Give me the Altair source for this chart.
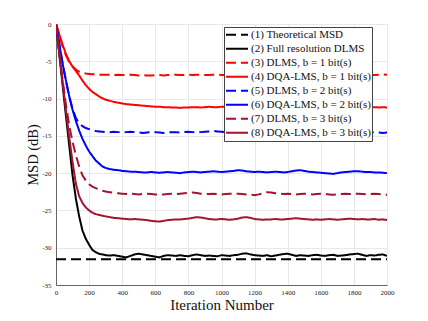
import altair as alt
import pandas as pd

iterations = [0, 20, 40, 60, 80, 100, 120, 140, 160, 180, 200, 220, 240, 260, 280, 300,
              325, 350, 375, 400, 425, 450, 475, 500, 525, 550,
              575, 600, 625, 650, 675, 700, 725, 750, 775, 800,
              825, 850, 875, 900, 925, 950, 975, 1000, 1025, 1050,
              1075, 1100, 1125, 1150, 1175, 1200, 1225, 1250, 1275, 1300,
              1325, 1350, 1375, 1400, 1425, 1450, 1475, 1500, 1525, 1550,
              1575, 1600, 1625, 1650, 1675, 1700, 1725, 1750, 1775, 1800,
              1825, 1850, 1875, 1900, 1925, 1950, 1975, 2000]

theory_iter = [0, 2000]
theory_msd = [-31.55, -31.55]

full_dlms = [0, -4.1, -8.2, -12.3, -16.3, -20.3, -23.4, -25.8, -27.7, -28.8, -29.6, -30.3, -30.6, -30.8, -30.9, -31.0,
             -31.05, -31.0, -31.1, -31.2, -31.3, -31.1, -30.9, -30.8, -30.9, -31.0,
             -31.1, -31.2, -31.3, -31.1, -31.0, -31.05, -31.1, -31.0, -31.1, -31.15,
             -31.0, -30.9, -31.0, -31.1, -31.05, -31.1, -31.15, -31.0, -31.05, -31.1,
             -31.0, -30.95, -30.8, -30.75, -30.9, -31.0, -31.05, -31.1, -31.0, -31.15,
             -31.05, -30.95, -30.85, -30.8, -30.95, -31.1, -31.0, -31.05, -31.1, -31.0,
             -30.95, -31.05, -31.1, -31.0, -30.95, -31.1, -31.05, -31.0, -30.9, -30.85,
             -30.8, -30.95, -31.1, -31.0, -31.05, -30.95, -30.9, -31.1]

dlms_b1 = [0, -1.5, -3.0, -4.2, -5.1, -5.7, -6.1, -6.4, -6.55, -6.65, -6.7, -6.75, -6.75, -6.8, -6.8, -6.8,
           -6.8, -6.85, -6.8, -6.85, -6.85, -6.8, -6.85, -6.9, -6.85, -6.9,
           -6.9, -6.85, -6.85, -6.9, -6.85, -6.85, -6.8, -6.85, -6.85, -6.8,
           -6.85, -6.8, -6.8, -6.85, -6.85, -6.8, -6.8, -6.85, -6.85, -6.8,
           -6.8, -6.85, -6.85, -6.8, -6.8, -6.85, -6.85, -6.8, -6.85, -6.85,
           -6.8, -6.8, -6.85, -6.85, -6.8, -6.85, -6.8, -6.8, -6.85, -6.85,
           -6.8, -6.85, -6.85, -6.8, -6.8, -6.85, -6.85, -6.8, -6.8, -6.85,
           -6.85, -6.8, -6.8, -6.85, -6.85, -6.8, -6.75, -6.8]

dqa_b1 = [0, -1.4, -2.8, -4.0, -5.0, -5.7, -6.3, -6.9, -7.6, -8.2, -8.7, -9.1, -9.4, -9.7, -9.95, -10.15,
          -10.3, -10.45, -10.55, -10.65, -10.75, -10.8, -10.85, -10.9, -10.95, -11.0,
          -11.05, -11.1, -11.1, -11.15, -11.15, -11.2, -11.2, -11.25, -11.2, -11.2,
          -11.15, -11.15, -11.2, -11.15, -11.1, -11.15, -11.15, -11.1, -11.1, -11.15,
          -11.1, -11.1, -11.15, -11.1, -11.1, -11.15, -11.15, -11.1, -11.1, -11.1,
          -11.15, -11.1, -11.1, -11.15, -11.15, -11.1, -11.1, -11.15, -11.1, -11.1,
          -11.15, -11.15, -11.1, -11.1, -11.15, -11.1, -11.1, -11.15, -11.1, -11.15,
          -11.15, -11.1, -11.1, -11.15, -11.15, -11.2, -11.15, -11.2]

dlms_b2 = [0, -2.7, -5.3, -7.6, -9.7, -11.4, -12.6, -13.3, -13.7, -13.95, -14.1, -14.25, -14.35, -14.4, -14.45, -14.5,
           -14.5, -14.45, -14.5, -14.55, -14.5, -14.45, -14.5, -14.55, -14.6, -14.55,
           -14.5, -14.5, -14.55, -14.6, -14.55, -14.5, -14.5, -14.55, -14.5, -14.45,
           -14.5, -14.55, -14.5, -14.45, -14.4, -14.35, -14.4, -14.45, -14.5, -14.5,
           -14.55, -14.5, -14.5, -14.45, -14.5, -14.55, -14.5, -14.5, -14.45, -14.5,
           -14.55, -14.5, -14.5, -14.45, -14.5, -14.5, -14.55, -14.5, -14.45, -14.5,
           -14.5, -14.55, -14.5, -14.5, -14.45, -14.5, -14.55, -14.5, -14.5, -14.55,
           -14.5, -14.5, -14.55, -14.5, -14.5, -14.55, -14.6, -14.55]

dqa_b2 = [0, -2.7, -5.3, -7.6, -9.7, -11.5, -13.0, -14.3, -15.4, -16.3, -17.1, -17.7, -18.3, -18.7, -19.1, -19.3,
          -19.45, -19.55, -19.6, -19.7, -19.75, -19.8, -19.8, -19.85, -19.9, -19.9,
          -19.85, -19.9, -19.95, -19.9, -19.85, -19.9, -19.95, -20.0, -19.9, -19.85,
          -19.8, -19.85, -19.9, -19.85, -19.8, -19.75, -19.8, -19.85, -19.8, -19.75,
          -19.7, -19.6, -19.65, -19.75, -19.8, -19.85, -19.8, -19.85, -19.9, -19.85,
          -19.8, -19.85, -19.9, -19.85, -19.75, -19.65, -19.6, -19.7, -19.8, -19.85,
          -19.9, -19.95, -20.0, -20.05, -20.1, -20.0, -19.9, -19.85, -19.8, -19.75,
          -19.75, -19.8, -19.85, -19.85, -19.9, -19.9, -19.95, -20.0]

dlms_b3 = [0, -3.8, -7.5, -10.8, -13.6, -15.8, -17.6, -19.1, -20.3, -21.0, -21.5, -21.8, -22.0, -22.2, -22.35, -22.45,
           -22.55, -22.65, -22.7, -22.75, -22.8, -22.75, -22.8, -22.85, -22.8, -22.75,
           -22.8, -22.85, -22.9, -22.85, -22.8, -22.75, -22.8, -22.75, -22.7, -22.65,
           -22.6, -22.65, -22.75, -22.8, -22.8, -22.75, -22.8, -22.85, -22.8, -22.75,
           -22.8, -22.75, -22.8, -22.85, -22.9, -22.95, -22.85, -22.7, -22.55, -22.6,
           -22.7, -22.75, -22.8, -22.75, -22.8, -22.85, -22.8, -22.75, -22.8, -22.85,
           -22.8, -22.75, -22.8, -22.85, -22.9, -22.85, -22.8, -22.75, -22.8, -22.8,
           -22.75, -22.8, -22.85, -22.8, -22.75, -22.8, -22.85, -22.9]

dqa_b3 = [0, -3.9, -7.8, -11.6, -15.2, -18.5, -21.4, -23.1, -24.0, -24.6, -25.0, -25.3, -25.5, -25.6, -25.7, -25.8,
          -25.9, -26.0, -26.05, -26.1, -26.15, -26.2, -26.15, -26.2, -26.25, -26.3,
          -26.4, -26.45, -26.5, -26.4, -26.3, -26.25, -26.2, -26.2, -26.15, -26.1,
          -26.0, -25.9, -25.95, -26.05, -26.15, -26.2, -26.2, -26.15, -26.2, -26.25,
          -26.2, -26.1, -25.95, -25.9, -26.0, -26.15, -26.2, -26.25, -26.2, -26.2,
          -26.15, -26.2, -26.2, -26.15, -26.1, -26.05, -26.1, -26.15, -26.2, -26.25,
          -26.2, -26.25, -26.2, -26.15, -26.2, -26.25, -26.2, -26.15, -26.1, -26.15,
          -26.2, -26.15, -26.2, -26.2, -26.15, -26.25, -26.2, -26.3]

labels = ["(1) Theoretical MSD",
          "(2) Full resolution DLMS",
          "(3) DLMS, b = 1 bit(s)",
          "(4) DQA-LMS, b = 1 bit(s)",
          "(5) DLMS, b = 2 bit(s)",
          "(6) DQA-LMS, b = 2 bit(s)",
          "(7) DLMS, b = 3 bit(s)",
          "(8) DQA-LMS, b = 3 bit(s)"]
colors = ["#000000", "#000000", "#ff0000", "#ff0000", "#0000ff", "#0000ff", "#a2142f", "#a2142f"]
dashes = [[10, 5], [1, 0], [10, 5], [1, 0], [10, 5], [1, 0], [10, 5], [1, 0]]

rows = []
for i, v in zip(theory_iter, theory_msd):
    rows.append({"iter": i, "msd": v, "series": labels[0]})
for lab, ser in zip(labels[1:], [full_dlms, dlms_b1, dqa_b1, dlms_b2, dqa_b2, dlms_b3, dqa_b3]):
    for i, v in zip(iterations, ser):
        rows.append({"iter": i, "msd": v, "series": lab})
df = pd.DataFrame(rows)

serif = "Liberation Serif"

chart = alt.Chart(df).mark_line(strokeWidth=2, clip=True).encode(
    x=alt.X("iter:Q",
            scale=alt.Scale(domain=[0, 2000], nice=False),
            axis=alt.Axis(values=[0, 200, 400, 600, 800, 1000, 1200, 1400, 1600, 1800, 2000],
                          title="Iteration Number", titleFont=serif, titleFontSize=15,
                          titleFontWeight="normal", titleColor="#111", titleY=24,
                          titleBaseline="alphabetic",
                          labelFont=serif, labelFontSize=7, labelColor="#222",
                          labelPadding=3, ticks=False, labelExpr="datum.value + ''",
                          domainColor="#666", gridColor="#e8e8e8", labelFlush=False)),
    y=alt.Y("msd:Q",
            scale=alt.Scale(domain=[-35, 0], nice=False),
            axis=alt.Axis(values=[0, -5, -10, -15, -20, -25, -30, -35],
                          title="MSD (dB)", titleFont=serif, titleFontSize=14.5,
                          titleFontWeight="normal", titleColor="#111", titleX=-19,
                          titleBaseline="alphabetic",
                          labelFont=serif, labelFontSize=7, labelColor="#222",
                          labelPadding=5, ticks=False, labelExpr="datum.value + ''",
                          domainColor="#666", gridColor="#e8e8e8", labelFlush=False)),
    color=alt.Color("series:N", scale=alt.Scale(domain=labels, range=colors),
                    legend=alt.Legend(title=None, orient="none", legendX=168, legendY=3,
                                      fillColor="white", strokeColor="#444", padding=1,
                                      labelFont=serif, labelFontSize=11, labelColor="#111",
                                      symbolType="stroke", symbolStrokeWidth=2, symbolSize=484,
                                      clipHeight=13.3, rowPadding=0, labelOffset=2,
                                      labelLimit=300)),
    strokeDash=alt.StrokeDash("series:N", scale=alt.Scale(domain=labels, range=dashes),
                              legend=None),
    order=alt.Order("iter:Q"),
).properties(
    width=331, height=261,
    autosize=alt.AutoSizeParams(type="none"),
    padding={"left": 48, "top": 16, "right": 20, "bottom": 40},
).configure_view(stroke="#e8e8e8")

chart.save("out.html", embed_options={"renderer": "svg", "actions": False})
